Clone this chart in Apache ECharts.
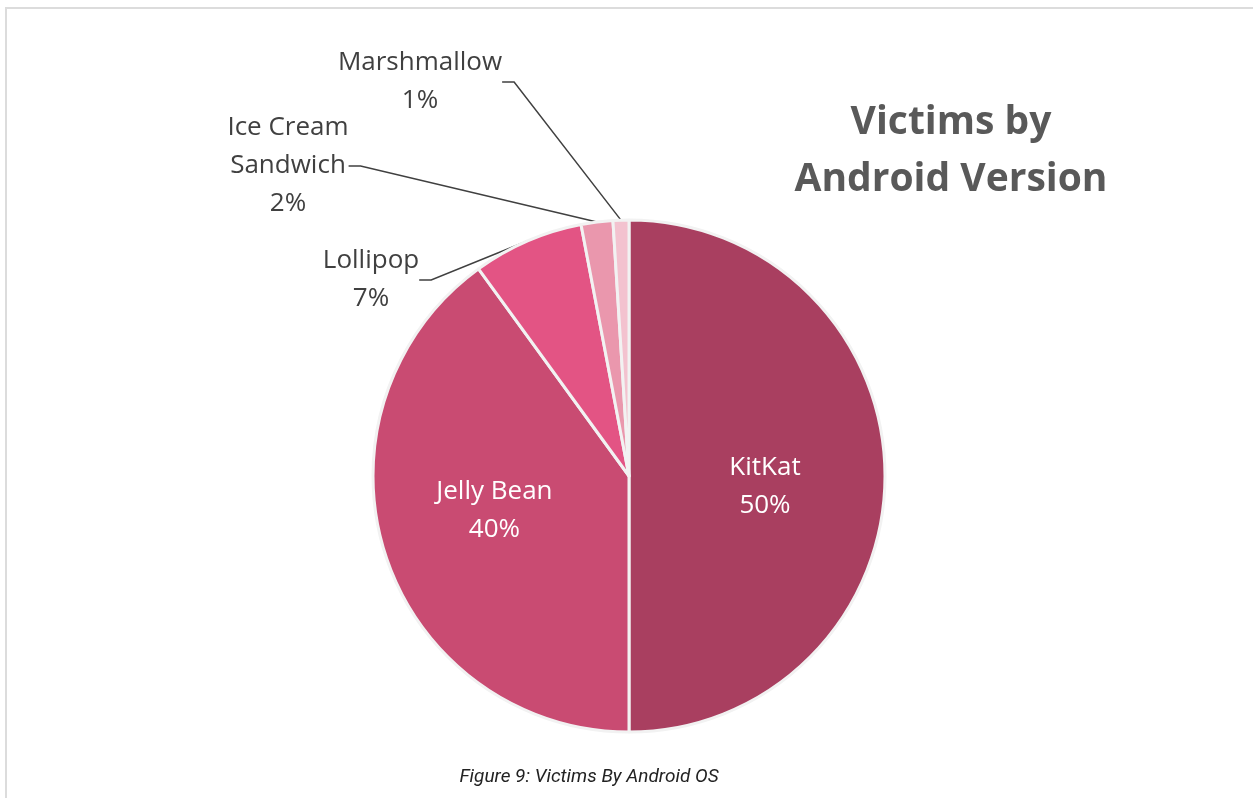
<!DOCTYPE html>
<html>
<head>
<meta charset="utf-8">
<script src="https://cdn.jsdelivr.net/npm/echarts@6/dist/echarts.min.js"></script>
<style>
  html, body { margin: 0; padding: 0; background: #fff; }
  #frame { position: absolute; left: 5px; top: 7px; width: 1253px; height: 800px;
           border-top: 2px solid #dcdcdc; border-left: 2px solid #dcdcdc; }
  #chart { position: absolute; left: 0; top: 0; width: 1253px; height: 798px; }
</style>
</head>
<body>
<div id="frame"></div>
<div id="chart"></div>
<script>
const categories = ['KitKat', 'Jelly Bean', 'Lollipop', 'Ice Cream\nSandwich', 'Marshmallow'];
const values = [50, 40, 7, 2, 1];
const colors = ['#A93F60', '#C94B72', '#E35484', '#EA97AD', '#F3C2CF'];
const titleText = 'Victims by\nAndroid Version';
const captionText = 'Figure 9: Victims By Android OS';

// outside label anchor positions (label block centres)
const outsideLabelPos = {
  2: { x: 371, y: 280 },
  3: { x: 288, y: 166 },
  4: { x: 420, y: 82 }
};
// small nudges of the inside labels
const insideLabelShift = {
  0: { dx: 5, dy: 11 },
  1: { dx: -10, dy: -6 }
};

const chart = echarts.init(document.getElementById('chart'));

const data = categories.map((c, i) => {
  const inside = i < 2;
  return {
    name: c,
    value: values[i],
    itemStyle: { color: colors[i] },
    label: inside ? {
      position: 'inside',
      color: '#ffffff',
      fontFamily: 'Open Sans',
      fontSize: 26,
      lineHeight: 38
    } : {
      position: 'outside',
      color: '#404040',
      fontFamily: 'Open Sans',
      fontSize: 26,
      lineHeight: 38
    },
    labelLine: { show: !inside }
  };
});

chart.setOption({
  animation: false,
  title: [{
    text: titleText,
    left: 946,
    top: 89,
    textAlign: 'center',
    textStyle: {
      fontFamily: 'Open Sans',
      fontWeight: 'bold',
      fontSize: 39,
      lineHeight: 57,
      color: '#595959'
    }
  }, {
    text: captionText,
    left: 584,
    top: 763,
    textAlign: 'center',
    textStyle: {
      fontFamily: 'Roboto',
      fontStyle: 'italic',
      fontWeight: 'normal',
      fontSize: 19,
      color: '#222222'
    }
  }],
  series: [{
    type: 'pie',
    center: [629, 476],
    radius: [0, 256],
    startAngle: 90,
    clockwise: true,
    avoidLabelOverlap: false,
    itemStyle: { borderColor: '#f2f2f2', borderWidth: 3 },
    label: {
      fontFamily: 'Open Sans',
      formatter: p => p.name + '\n' + p.percent.toFixed(0) + '%'
    },
    labelLine: {
      show: true,
      length: 20,
      length2: 12,
      lineStyle: { color: '#404040', width: 1.5 }
    },
    labelLayout: function (params) {
      const pos = outsideLabelPos[params.dataIndex];
      if (pos) return { x: pos.x, y: pos.y, align: 'center', verticalAlign: 'middle' };
      const s = insideLabelShift[params.dataIndex];
      if (s) return { dx: s.dx, dy: s.dy };
      return {};
    },
    emphasis: { disabled: true },
    data: data
  }]
});
</script>
</body>
</html>
